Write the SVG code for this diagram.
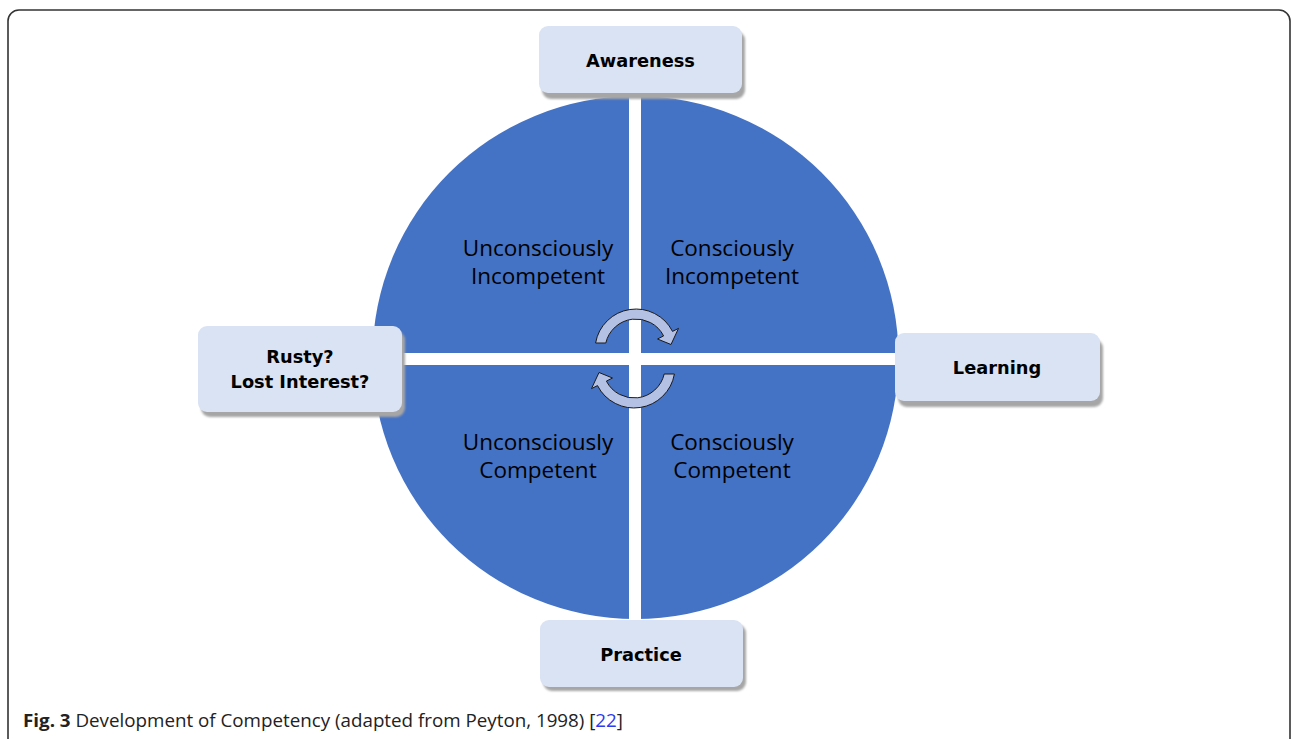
<svg xmlns="http://www.w3.org/2000/svg" width="1292" height="739" viewBox="0 0 1292 739">
<style>
.box{fill:#dae3f3;}
.shadow{fill:#a6a6a6;}
.lbl{font-family:"DejaVu Sans","Liberation Sans",sans-serif;font-weight:bold;font-size:17.8px;fill:#000;text-anchor:middle;}
.q{font-family:"Open Sans","Liberation Sans",sans-serif;font-size:22.5px;fill:#000;text-anchor:middle;}
.cap{font-family:"Open Sans","Liberation Sans",sans-serif;font-size:18px;fill:#222;}
.arr{fill:#b4c1e4;stroke:#1a1a1a;stroke-width:1;}
</style>
<defs>
<path id="cyc" d="M -40.4,-7 A 41 41 0 0 1 36.5,-18.6 L 42.5,-21.6 L 35,-5.5 L 21.5,-11 L 27.6,-14.1 A 31 31 0 0 0 -30.2,-7 Z"/>
<filter id="blur" x="-10%" y="-10%" width="120%" height="130%"><feGaussianBlur stdDeviation="1.2"/></filter>
</defs>
<rect x="8" y="10" width="1282" height="760" rx="11" fill="#fff" stroke="#333" stroke-width="1.6"/>
<g id="circle">
<ellipse cx="635.5" cy="357.5" rx="263" ry="261.5" fill="#4472c4"/>
<rect x="629" y="90" width="12" height="535" fill="#fff"/>
<rect x="370" y="353" width="532" height="12" fill="#fff"/>
</g>
<g id="quadrants">
<text class="q" x="538" y="256">Unconsciously</text>
<text class="q" x="538" y="284">Incompetent</text>
<text class="q" x="732" y="256">Consciously</text>
<text class="q" x="732" y="284">Incompetent</text>
<text class="q" x="538" y="450">Unconsciously</text>
<text class="q" x="538" y="478">Competent</text>
<text class="q" x="732" y="450">Consciously</text>
<text class="q" x="732" y="478">Competent</text>
</g>
<g id="connectors">
<use href="#cyc" class="arr" transform="translate(636,350)"/>
<use href="#cyc" class="arr" transform="translate(634,367) rotate(180)"/>
</g>
<g id="awareness">
<rect class="shadow" x="542" y="31" width="203" height="68" rx="9" filter="url(#blur)"/>
<rect class="box" x="539" y="26" width="203" height="67" rx="9"/>
<text class="lbl" x="640.5" y="67">Awareness</text>
</g>
<g id="learning">
<rect class="shadow" x="898" y="339" width="205" height="68" rx="9" filter="url(#blur)"/>
<rect class="box" x="895" y="333" width="205" height="68" rx="9"/>
<text class="lbl" x="997" y="374">Learning</text>
</g>
<g id="practice">
<rect class="shadow" x="543" y="624" width="203" height="67" rx="9" filter="url(#blur)"/>
<rect class="box" x="540" y="620" width="203" height="67" rx="9"/>
<text class="lbl" x="641" y="661">Practice</text>
</g>
<g id="rusty">
<rect class="shadow" x="201" y="331" width="204" height="86" rx="9" filter="url(#blur)"/>
<rect class="box" x="198" y="326" width="204" height="86" rx="9"/>
<text class="lbl" x="300" y="363">Rusty?</text>
<text class="lbl" x="300" y="388">Lost Interest?</text>
</g>
<text class="cap" x="23" y="727" textLength="600" lengthAdjust="spacingAndGlyphs"><tspan font-weight="bold">Fig. 3</tspan> Development of Competency (adapted from Peyton, 1998) [<tspan fill="#2b3cf0">22</tspan>]</text>
</svg>
